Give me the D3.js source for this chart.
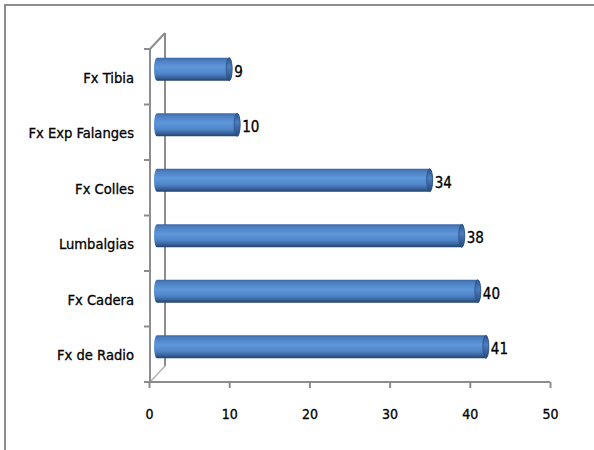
<!DOCTYPE html>
<html><head><meta charset="utf-8">
<script src="https://cdn.jsdelivr.net/npm/d3@7"></script>
<style>
html,body{margin:0;padding:0;background:#fff;}
svg{display:block;}
text{font-family:"DejaVu Sans Condensed","Liberation Sans Narrow",sans-serif;fill:#000;stroke:#000;stroke-width:0.3px;}
</style></head>
<body><svg id="chart" width="594" height="450"></svg>
<script>
const categories = ["Fx Tibia","Fx Exp Falanges","Fx Colles","Lumbalgias","Fx Cadera","Fx de Radio"];
const values = [9,10,34,38,40,41];
const xTicks = [0,10,20,30,40,50];

const svg = d3.select("#chart");
const W = 594, H = 450;
const axisCol = "#8c8c8c";
const depth = 16, half = 8;

// frame (top and left border)
svg.append("line").attr("x1",4).attr("x2",W).attr("y1",5).attr("y2",5).attr("stroke",axisCol).attr("stroke-width",2);
svg.append("line").attr("x1",5).attr("x2",5).attr("y1",4).attr("y2",H).attr("stroke",axisCol).attr("stroke-width",2);

const x = d3.scaleLinear().domain([0,50]).range([149,550]);
const y = d3.scaleBand().domain(categories).range([49,382]).padding(0);

const defs = svg.append("defs");
const g1 = defs.append("linearGradient").attr("id","cyl").attr("x1",0).attr("y1",0).attr("x2",0).attr("y2",1);
[[0,"#3a67a4"],[0.12,"#4c7fc2"],[0.42,"#5f97db"],[0.7,"#4f84c8"],[0.88,"#36609a"],[1,"#223f68"]]
  .forEach(([o,c])=>g1.append("stop").attr("offset",o).attr("stop-color",c));
const g2 = defs.append("linearGradient").attr("id","cap").attr("x1",0).attr("y1",0).attr("x2",0).attr("y2",1);
[[0,"#2e568c"],[0.4,"#4b7dbf"],[1,"#274a7a"]]
  .forEach(([o,c])=>g2.append("stop").attr("offset",o).attr("stop-color",c));

// back wall line and diagonals
const x0 = x(0), yTop = y.range()[0], yBot = y.range()[1];
svg.append("line").attr("x1",x0+depth).attr("x2",x0+depth).attr("y1",yTop-depth).attr("y2",yBot-depth).attr("stroke",axisCol).attr("stroke-width",2);
svg.append("line").attr("x1",x0+1).attr("x2",x0+depth).attr("y1",yTop).attr("y2",yTop-depth).attr("stroke",axisCol).attr("stroke-width",2);
svg.append("line").attr("x1",x0+1).attr("x2",x0+depth).attr("y1",yBot).attr("y2",yBot-depth).attr("stroke","#b0b0b0").attr("stroke-width",1.5);

// front y axis line with ticks
svg.append("line").attr("x1",x0+1).attr("x2",x0+1).attr("y1",yTop).attr("y2",yBot).attr("stroke",axisCol).attr("stroke-width",2);
const bounds = categories.map(c=>y(c)).concat([yBot]);
svg.selectAll(".ytick").data(bounds).enter().append("line")
  .attr("x1",x0-5).attr("x2",x0+1).attr("y1",d=>d).attr("y2",d=>d).attr("stroke",axisCol).attr("stroke-width",2);

// x axis
const xAxis = svg.append("g").attr("transform",`translate(0,${yBot})`)
  .call(d3.axisBottom(x).tickValues(xTicks).tickSize(6).tickPadding(21).tickFormat(d3.format("d")));
xAxis.select(".domain").attr("stroke",axisCol).attr("stroke-width",2).attr("d",`M${x(0)},0H${x(50)}`);
xAxis.selectAll(".tick line").attr("stroke",axisCol).attr("stroke-width",2);
xAxis.selectAll(".tick text").attr("font-size",14)
  .attr("font-family",'"DejaVu Sans Condensed",sans-serif').attr("fill","#000");

// category labels
svg.selectAll(".cat").data(categories).enter().append("text")
  .attr("x",134).attr("y",d=>y(d)+y.bandwidth()/2+2)
  .attr("text-anchor","end").attr("dominant-baseline","middle")
  .attr("font-size",14.6).text(d=>d);

// bars (cylinders)
const bh = 23, rx = 3;
const bars = svg.selectAll(".bar").data(categories.map((c,i)=>({c,v:values[i]}))).enter().append("g");
bars.each(function(d){
  const g = d3.select(this);
  const cy = y(d.c)+y.bandwidth()/2 - half + 0.5;
  const xs = x(0)+half, xe = x(d.v)+half;
  g.append("path")
    .attr("d",`M${xs},${cy-bh/2} L${xe},${cy-bh/2} A${rx},${bh/2} 0 0 1 ${xe},${cy+bh/2} L${xs},${cy+bh/2} A${rx},${bh/2} 0 0 1 ${xs},${cy-bh/2} Z`)
    .attr("fill","url(#cyl)");
  g.append("ellipse").attr("cx",xe).attr("cy",cy).attr("rx",rx).attr("ry",bh/2)
    .attr("fill","url(#cap)").attr("stroke","#2a4f82").attr("stroke-width",0.8);
  g.append("text").attr("x",xe+rx+2).attr("y",cy+3)
    .attr("dominant-baseline","middle").attr("font-size",15).text(d.v);
});
</script></body></html>
